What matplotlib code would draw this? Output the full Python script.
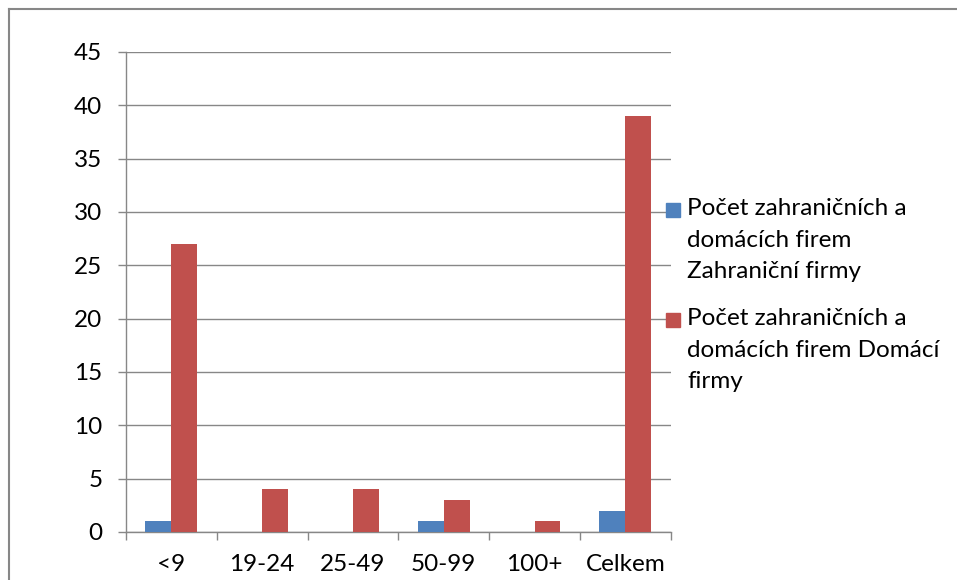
import matplotlib
matplotlib.use("Agg")
import matplotlib.pyplot as plt
from matplotlib.lines import Line2D
from matplotlib.patches import Rectangle
import numpy as np

plt.rcParams['font.family'] = ['Lato', 'DejaVu Sans']

# data
categories = ["<9", "19-24", "25-49", "50-99", "100+", "Celkem"]
zahranicni = [1, 0, 0, 1, 0, 2]
domaci = [27, 4, 4, 3, 1, 39]
series_names = ["Počet zahraničních a\ndomácích firem\nZahraniční firmy",
                "Počet zahraničních a\ndomácích firem Domácí\nfirmy"]
colors = ["#4F81BD", "#C0504D"]
y_ticks = [0, 5, 10, 15, 20, 25, 30, 35, 40, 45]

W, H = 957, 580
fs = 17.5
fig = plt.figure(figsize=(W / 100, H / 100), dpi=100)
ax = fig.add_axes([126 / W, 1 - 532 / H, (670.7 - 126) / W, (532 - 52) / H])

gray = "#878787"
x = np.arange(len(categories))
bw = 0.286
ax.bar(x - bw / 2, zahranicni, bw, color=colors[0], zorder=3)
ax.bar(x + bw / 2, domaci, bw, color=colors[1], zorder=3)

ax.set_xlim(-0.5, len(categories) - 0.5)
ax.set_ylim(0, 45)
ax.set_yticks(y_ticks)
ax.yaxis.grid(True, color=gray, linewidth=1.0, zorder=0)
ax.set_axisbelow(True)

# category labels centred, tick marks between categories
ax.set_xticks(x)
ax.set_xticklabels(categories)
ax.set_xticks(np.arange(len(categories) + 1) - 0.5, minor=True)
ax.tick_params(axis='x', which='major', length=0, pad=16, labelsize=fs)
ax.tick_params(axis='x', which='minor', length=6, width=1.0, color=gray, direction='out')
ax.tick_params(axis='y', length=6, width=1.0, color=gray, pad=11, labelsize=fs)

for s in ['top', 'right']:
    ax.spines[s].set_visible(False)
for s in ['left', 'bottom']:
    ax.spines[s].set_color(gray)
    ax.spines[s].set_linewidth(1.0)

# legend drawn by hand so the marker sits next to the first line
for i, (name, c) in enumerate(zip(series_names, colors)):
    top = [203, 313][i]
    fig.patches.append(Rectangle((666 / W, 1 - (top + 14) / H), 14 / W, 14 / H,
                                 transform=fig.transFigure, color=c))
    fig.text(687 / W, 1 - (top - 5) / H, name, fontsize=fs, va='top', ha='left',
             linespacing=1.62)

# chart frame
fig.add_artist(Line2D([9 / W, 9 / W], [0, 1 - 9 / H], color=gray, linewidth=1.5))
fig.add_artist(Line2D([9 / W, 1], [1 - 9 / H, 1 - 9 / H], color=gray, linewidth=1.5))

fig.savefig("out.png", dpi=100)
